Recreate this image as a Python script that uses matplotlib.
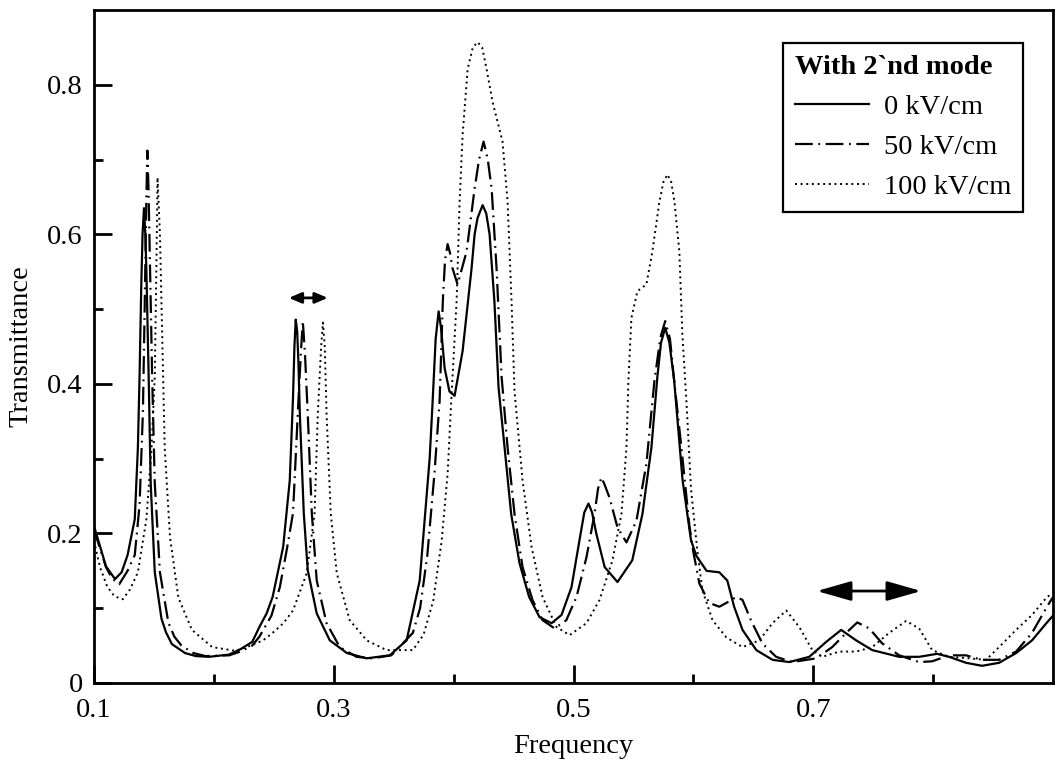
import matplotlib
matplotlib.use("Agg")
import matplotlib.pyplot as plt
from matplotlib.ticker import FixedLocator

plt.rcParams['font.family'] = ['Liberation Serif', 'DejaVu Serif']

# ---------------- data ----------------
freq_0 = [0.100, 0.105, 0.110, 0.1175, 0.123, 0.128, 0.134, 0.1366, 0.138, 0.1394,
          0.1405, 0.1417, 0.1428, 0.1437, 0.1456, 0.1473, 0.1507, 0.1563, 0.160, 0.165,
          0.176, 0.185, 0.1958, 0.2127, 0.222, 0.232, 0.238, 0.244, 0.249, 0.2578,
          0.2633, 0.266, 0.2672, 0.2683, 0.2695, 0.2705, 0.2717, 0.275, 0.2783, 0.2858,
          0.2967, 0.311, 0.3275, 0.3467, 0.3608, 0.3717, 0.3744, 0.380, 0.3825, 0.385,
          0.3875, 0.3895, 0.3925, 0.3965, 0.4008, 0.4075, 0.415, 0.4175, 0.420, 0.4242,
          0.4272, 0.430, 0.434, 0.4375, 0.4425, 0.448, 0.455, 0.463, 0.4717, 0.4817,
          0.490, 0.4983, 0.505, 0.509, 0.5125, 0.5155, 0.519, 0.526, 0.5367, 0.549,
          0.5575, 0.565, 0.570, 0.573, 0.5765, 0.580, 0.584, 0.591, 0.598, 0.6025,
          0.611, 0.6217, 0.6283, 0.634, 0.641, 0.6525, 0.666, 0.680, 0.6967, 0.7108,
          0.7233, 0.7358, 0.7492, 0.7717, 0.7883, 0.8033, 0.8133, 0.8275, 0.8408, 0.855,
          0.8692, 0.8825, 0.895, 0.900]
trans_0 = [0.210, 0.183, 0.156, 0.139, 0.148, 0.171, 0.219, 0.314, 0.410, 0.529,
           0.600, 0.635, 0.600, 0.552, 0.410, 0.267, 0.148, 0.086, 0.068, 0.052,
           0.040, 0.036, 0.035, 0.038, 0.045, 0.055, 0.075, 0.093, 0.115, 0.182,
           0.271, 0.381, 0.450, 0.486, 0.470, 0.430, 0.360, 0.227, 0.151, 0.093,
           0.057, 0.040, 0.033, 0.037, 0.057, 0.137, 0.190, 0.300, 0.377, 0.460,
           0.497, 0.475, 0.421, 0.390, 0.384, 0.444, 0.555, 0.600, 0.622, 0.639,
           0.628, 0.600, 0.511, 0.395, 0.315, 0.226, 0.160, 0.115, 0.088, 0.080,
           0.091, 0.128, 0.191, 0.228, 0.240, 0.228, 0.200, 0.155, 0.135, 0.164,
           0.226, 0.315, 0.410, 0.455, 0.475, 0.455, 0.404, 0.271, 0.191, 0.170,
           0.150, 0.148, 0.137, 0.102, 0.071, 0.044, 0.031, 0.028, 0.035, 0.055,
           0.071, 0.057, 0.044, 0.035, 0.035, 0.039, 0.035, 0.027, 0.023, 0.027,
           0.040, 0.057, 0.081, 0.090]

freq_50 = [0.100, 0.105, 0.110, 0.115, 0.121, 0.128, 0.134, 0.138, 0.1408, 0.1423,
           0.1437, 0.1445, 0.1455, 0.1465, 0.1485, 0.1507, 0.155, 0.162, 0.167, 0.173,
           0.183, 0.193, 0.2127, 0.222, 0.232, 0.238, 0.248, 0.255, 0.261, 0.266,
           0.270, 0.2725, 0.2742, 0.276, 0.2783, 0.2817, 0.2858, 0.294, 0.305, 0.319,
           0.332, 0.348, 0.366, 0.372, 0.378, 0.384, 0.3883, 0.391, 0.3928, 0.395,
           0.397, 0.399, 0.4033, 0.4108, 0.4175, 0.4212, 0.425, 0.4285, 0.4317, 0.4358,
           0.440, 0.445, 0.4508, 0.4575, 0.4658, 0.4742, 0.4842, 0.494, 0.5025, 0.5108,
           0.5175, 0.5205, 0.5233, 0.526, 0.530, 0.5367, 0.5442, 0.5525, 0.5608, 0.5675,
           0.5725, 0.5765, 0.5805, 0.584, 0.590, 0.5967, 0.600, 0.605, 0.6133, 0.6217,
           0.6285, 0.6358, 0.641, 0.648, 0.6575, 0.669, 0.6825, 0.7025, 0.7158, 0.7275,
           0.7367, 0.7467, 0.7575, 0.7717, 0.7883, 0.7992, 0.8133, 0.8275, 0.8408, 0.855,
           0.8692, 0.8825, 0.895, 0.900]
trans_50 = [0.205, 0.180, 0.155, 0.140, 0.132, 0.150, 0.171, 0.238, 0.362, 0.505,
            0.648, 0.712, 0.660, 0.576, 0.410, 0.267, 0.148, 0.081, 0.062, 0.050,
            0.040, 0.036, 0.037, 0.042, 0.050, 0.062, 0.090, 0.128, 0.180, 0.227,
            0.360, 0.440, 0.484, 0.440, 0.360, 0.227, 0.137, 0.080, 0.048, 0.035,
            0.033, 0.037, 0.067, 0.100, 0.170, 0.280, 0.377, 0.511, 0.565, 0.587,
            0.575, 0.555, 0.533, 0.577, 0.661, 0.700, 0.724, 0.700, 0.661, 0.555,
            0.410, 0.315, 0.226, 0.155, 0.111, 0.084, 0.073, 0.084, 0.115, 0.168,
            0.226, 0.260, 0.275, 0.265, 0.248, 0.208, 0.188, 0.217, 0.293, 0.404,
            0.462, 0.484, 0.460, 0.404, 0.315, 0.210, 0.175, 0.133, 0.107, 0.102,
            0.108, 0.115, 0.111, 0.084, 0.053, 0.035, 0.028, 0.033, 0.048, 0.067,
            0.081, 0.073, 0.053, 0.037, 0.028, 0.029, 0.037, 0.037, 0.031, 0.031,
            0.042, 0.067, 0.102, 0.115]

freq_100 = [0.100, 0.105, 0.111, 0.117, 0.124, 0.130, 0.1366, 0.1437, 0.148, 0.1507,
            0.152, 0.153, 0.155, 0.157, 0.159, 0.1634, 0.1704, 0.1817, 0.1986, 0.218,
            0.2275, 0.241, 0.249, 0.258, 0.266, 0.2775, 0.284, 0.2867, 0.2895, 0.291,
            0.2925, 0.294, 0.2975, 0.3025, 0.3133, 0.3275, 0.344, 0.366, 0.375, 0.383,
            0.390, 0.395, 0.398, 0.4025, 0.405, 0.4075, 0.4117, 0.416, 0.420, 0.4238,
            0.4275, 0.4325, 0.4408, 0.445, 0.4483, 0.4508, 0.4575, 0.465, 0.4742, 0.4858,
            0.4967, 0.5108, 0.5217, 0.5325, 0.540, 0.5442, 0.5458, 0.5483, 0.5533, 0.5608,
            0.5658, 0.5717, 0.575, 0.5783, 0.5815, 0.5842, 0.5883, 0.5908, 0.5942, 0.598,
            0.6033, 0.6075, 0.616, 0.6275, 0.641, 0.655, 0.666, 0.6775, 0.6883, 0.6992,
            0.7075, 0.7217, 0.7358, 0.7492, 0.7633, 0.7775, 0.7883, 0.7992, 0.8133, 0.830,
            0.8442, 0.855, 0.8692, 0.8825, 0.895, 0.900]
trans_100 = [0.190, 0.155, 0.129, 0.116, 0.112, 0.125, 0.148, 0.219, 0.314, 0.410,
             0.552, 0.676, 0.600, 0.457, 0.314, 0.195, 0.114, 0.071, 0.048, 0.043,
             0.048, 0.057, 0.067, 0.080, 0.097, 0.147, 0.227, 0.360, 0.450, 0.482,
             0.450, 0.360, 0.227, 0.147, 0.084, 0.057, 0.044, 0.044, 0.065, 0.110,
             0.190, 0.280, 0.377, 0.511, 0.644, 0.733, 0.821, 0.850, 0.857, 0.850,
             0.821, 0.777, 0.724, 0.644, 0.511, 0.390, 0.271, 0.182, 0.115, 0.075,
             0.064, 0.080, 0.111, 0.164, 0.226, 0.315, 0.404, 0.488, 0.524, 0.533,
             0.577, 0.644, 0.670, 0.680, 0.670, 0.644, 0.577, 0.467, 0.377, 0.260,
             0.177, 0.124, 0.084, 0.061, 0.048, 0.057, 0.080, 0.097, 0.075, 0.044,
             0.035, 0.042, 0.042, 0.048, 0.067, 0.083, 0.073, 0.044, 0.035, 0.033,
             0.031, 0.048, 0.071, 0.091, 0.115, 0.120]

series_labels = ['0 kV/cm', '50 kV/cm', '100 kV/cm']
legend_title = 'With 2`nd mode'
x_label = 'Frequency'
y_label = 'Transmittance'
x_major_ticks = [0.1, 0.3, 0.5, 0.7]
x_tick_labels = ['0.1', '0.3', '0.5', '0.7']
x_minor_ticks = [0.2, 0.4, 0.6, 0.8]
y_major_ticks = [0.0, 0.2, 0.4, 0.6, 0.8]
y_tick_labels = ['0', '0.2', '0.4', '0.6', '0.8']
y_minor_ticks = [0.1, 0.3, 0.5, 0.7]
# shift-indicating arrows (x_start, x_end, y)
arrow_small = (0.2625, 0.2950, 0.515)
arrow_large = (0.7030, 0.7900, 0.123)

# ---------------- figure ----------------
fig = plt.figure(figsize=(10.55, 7.65), dpi=100)
ax = fig.add_axes([94 / 1055, 82 / 765, 959 / 1055, 673 / 765])

ax.plot(freq_0, trans_0, color='black', lw=1.6, linestyle='-', label=series_labels[0])
ax.plot(freq_50, trans_50, color='black', lw=1.6, linestyle=(0, (8, 2.5, 0.8, 2.5)),
        label=series_labels[1])
ax.plot(freq_100, trans_100, color='black', lw=1.4, linestyle=(0, (1, 1.9)),
        label=series_labels[2])

ax.set_xlim(0.1, 0.9)
ax.set_ylim(0.0, 0.9)

ax.xaxis.set_major_locator(FixedLocator(x_major_ticks))
ax.set_xticklabels(x_tick_labels)
ax.xaxis.set_minor_locator(FixedLocator(x_minor_ticks))
ax.yaxis.set_major_locator(FixedLocator(y_major_ticks))
ax.set_yticklabels(y_tick_labels)
ax.yaxis.set_minor_locator(FixedLocator(y_minor_ticks))

ax.tick_params(which='both', direction='in', width=2, labelsize=20.5, top=False, right=False)
ax.tick_params(which='major', length=13)
ax.tick_params(which='minor', length=6.5)
ax.tick_params(axis='x', which='major', pad=11)
ax.tick_params(axis='y', which='major', pad=8)

for sp in ax.spines.values():
    sp.set_linewidth(2)

ax.set_xlabel(x_label, fontsize=20.5, labelpad=8)
ax.set_ylabel(y_label, fontsize=20.5, labelpad=10)

# arrows
ax.annotate('', xy=(arrow_small[0], arrow_small[2]), xytext=(arrow_small[1], arrow_small[2]),
            arrowprops=dict(arrowstyle='<|-|>,head_length=0.75,head_width=0.32',
                            lw=2, color='black', shrinkA=0, shrinkB=0, mutation_scale=10))
ax.annotate('', xy=(arrow_large[0], arrow_large[2]), xytext=(arrow_large[1], arrow_large[2]),
            arrowprops=dict(arrowstyle='<|-|>,head_length=2.1,head_width=0.6',
                            lw=2, color='black', shrinkA=0, shrinkB=0, mutation_scale=10))

leg = ax.legend(title=legend_title, loc='upper right',
                bbox_to_anchor=((1023 - 94) / 959, (683 - 43) / 673),
                borderaxespad=0, fontsize=20.5, handlelength=2.6, handletextpad=0.5,
                labelspacing=0.5, borderpad=0.42, fancybox=False, framealpha=1,
                edgecolor='black', alignment='left',
                title_fontproperties={'weight': 'bold', 'size': 20.5})
leg.get_frame().set_linewidth(1.6)

fig.savefig('out.png', dpi=100)
